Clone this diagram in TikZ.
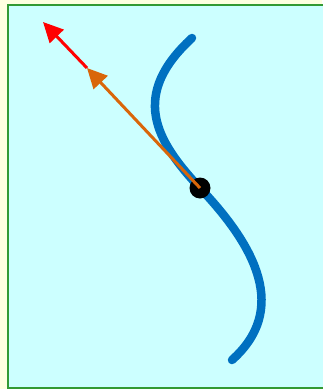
\documentclass[tikz,border=0pt]{standalone}
\usetikzlibrary{arrows.meta}
\definecolor{paleyellow}{RGB}{255,255,224}
\definecolor{palecyan}{RGB}{204,255,255}
\definecolor{framegreen}{RGB}{51,153,51}
\definecolor{curveblue}{RGB}{0,112,192}
\definecolor{tangentorange}{RGB}{217,102,10}
\tikzset{
  vecarrow/.style={line width=3pt, -{Triangle[length=20pt,width=19pt]}}
}
\begin{document}
\begin{tikzpicture}[x=1pt, y=-1pt]
    \useasboundingbox (0,0) rectangle (322,389);
    % Background
    \fill[paleyellow] (0,0) rectangle (322,389);
    \draw[line width=2pt, draw=framegreen, fill=palecyan] (8,5) rectangle (330,388);

    % Curve
    \draw[line width=8.5pt, curveblue, line cap=round]
        (192,38) .. controls (130,95) and (155,140) .. (200,188)
                 .. controls (257,248) and (288,310) .. (232,360);

    % Point on the curve
    \node[circle, fill=black, minimum size=21pt, inner sep=0pt] (p) at (200,188) {};
    \coordinate (t1) at (87,68);
    \coordinate (t2) at (43,22);

    % Vectors
    \draw[vecarrow, tangentorange] (p.center) -- (t1);
    \draw[vecarrow, red] (t1) -- (t2);
\end{tikzpicture}
\end{document}
